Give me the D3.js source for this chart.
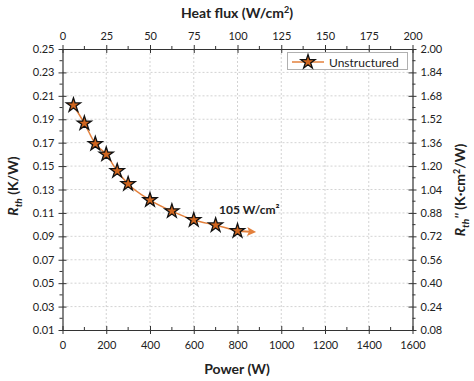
<!DOCTYPE html>
<html><head><meta charset="utf-8">
<script src="https://cdn.jsdelivr.net/npm/d3@7"></script>
<style>
body{margin:0;background:#fff;}
svg text{font-family:Lato,"Open Sans",sans-serif;}
</style></head>
<body><svg id="c" width="474" height="381"></svg>
<script>
const power = [50,100,150,200,250,300,400,500,600,700,800];
const rth = [0.202,0.1865,0.169,0.160,0.1458,0.1347,0.121,0.1115,0.104,0.0995,0.0946];
const arrowPower = [800,885];
const arrowR = [0.0946,0.0937];
const xTicks = [0,200,400,600,800,1000,1200,1400,1600];
const topTicks = [0,25,50,75,100,125,150,175,200];
const yTicks = [0.01,0.03,0.05,0.07,0.09,0.11,0.13,0.15,0.17,0.19,0.21,0.23,0.25];
const y2Ticks = [0.08,0.24,0.40,0.56,0.72,0.88,1.04,1.20,1.36,1.52,1.68,1.84,2.00];
const seriesName = "Unstructured";
const annot = "105 W/cm²";

const L=62.5,R=412.5,T=49,B=330;
const svg=d3.select("#c");
const x=d3.scaleLinear().domain([0,1600]).range([L,R]);
const xt=d3.scaleLinear().domain([0,200]).range([L,R]);
const y=d3.scaleLinear().domain([0.01,0.25]).range([B,T]);
const y2=d3.scaleLinear().domain([0.08,2.00]).range([B,T]);
const axisCol="#333";

// grid
const g=svg.append("g");
g.selectAll("line.v").data(xTicks.filter(d=>d>0&&d<1600)).join("line")
 .attr("x1",d=>x(d)).attr("x2",d=>x(d)).attr("y1",T).attr("y2",B)
 .attr("stroke","#c8c8c8").attr("stroke-dasharray","2,2").attr("stroke-width",0.8);
g.selectAll("line.h").data(yTicks.filter(d=>d>0.011&&d<0.249)).join("line")
 .attr("y1",d=>y(d)).attr("y2",d=>y(d)).attr("x1",L).attr("x2",R)
 .attr("stroke","#c8c8c8").attr("stroke-dasharray","2,2").attr("stroke-width",0.8);

function styleAxis(sel){
  sel.select(".domain").attr("stroke",axisCol).attr("stroke-width",1.2);
  sel.selectAll(".tick line").attr("stroke",axisCol).attr("stroke-width",1);
  sel.selectAll(".tick text").attr("fill","#222").attr("font-size","11px");
}
const minorX=d3.range(100,1600,200);
const minorY=d3.range(0.02,0.25,0.02);
// bottom
const ab=svg.append("g").attr("transform",`translate(0,${B})`)
 .call(d3.axisBottom(x).tickValues(xTicks).tickFormat(d3.format("d")).tickSizeOuter(0).tickSizeInner(4).tickPadding(5));
ab.selectAll(".tick line").attr("y1",-4).attr("y2",4);
ab.selectAll(".tick text").attr("dy","0.9em");
svg.append("g").selectAll("line").data(minorX).join("line")
 .attr("x1",d=>x(d)).attr("x2",d=>x(d)).attr("y1",B).attr("y2",B-3).attr("stroke",axisCol);
styleAxis(ab);
// top
const at=svg.append("g").attr("transform",`translate(0,${T})`)
 .call(d3.axisTop(xt).tickValues(topTicks).tickFormat(d3.format("d")).tickSizeOuter(0).tickSizeInner(4).tickPadding(5));
at.selectAll(".tick line").attr("y1",-4).attr("y2",4);
svg.append("g").selectAll("line").data(minorX).join("line")
 .attr("x1",d=>x(d)).attr("x2",d=>x(d)).attr("y1",T).attr("y2",T-3).attr("stroke",axisCol);
styleAxis(at);
// left
const al=svg.append("g").attr("transform",`translate(${L},0)`)
 .call(d3.axisLeft(y).tickValues(yTicks).tickFormat(d3.format(".2f")).tickSizeOuter(0).tickSizeInner(4).tickPadding(4));
al.selectAll(".tick line").attr("x1",-4).attr("x2",4);
svg.append("g").selectAll("line").data(minorY).join("line")
 .attr("y1",d=>y(d)).attr("y2",d=>y(d)).attr("x1",L).attr("x2",L-3).attr("stroke",axisCol);
styleAxis(al);
// right
const ar=svg.append("g").attr("transform",`translate(${R},0)`)
 .call(d3.axisRight(y2).tickValues(y2Ticks).tickFormat(d3.format(".2f")).tickSizeOuter(0).tickSizeInner(4).tickPadding(4));
ar.selectAll(".tick line").attr("x1",-4).attr("x2",4);
svg.append("g").selectAll("line").data(minorY).join("line")
 .attr("y1",d=>y(d)).attr("y2",d=>y(d)).attr("x1",R).attr("x2",R+3).attr("stroke",axisCol);
styleAxis(ar);

// titles
svg.append("text").attr("x",237).attr("y",18).attr("text-anchor","middle")
 .attr("font-size","14px").attr("font-weight","bold").attr("fill","#222")
 .html('Heat flux (W/cm<tspan dy="-5" font-size="9px">2</tspan><tspan dy="5">)</tspan>');
svg.append("text").attr("x",237).attr("y",374).attr("text-anchor","middle")
 .attr("font-size","14px").attr("font-weight","bold").attr("fill","#222").text("Power (W)");
svg.append("text").attr("transform","translate(18,186) rotate(-90)").attr("text-anchor","middle")
 .attr("font-size","14px").attr("font-weight","bold").attr("fill","#222")
 .html('<tspan font-style="italic">R</tspan><tspan font-style="italic" font-size="10px" dy="4">th</tspan><tspan dy="-4"> (K/W)</tspan>');
svg.append("text").attr("transform","translate(465,190) rotate(-90)").attr("text-anchor","middle")
 .attr("font-size","14px").attr("font-weight","bold").attr("fill","#222")
 .html('<tspan font-style="italic">R</tspan><tspan font-style="italic" font-size="10px" dy="4">th</tspan><tspan dy="-4" font-style="italic">\'\'</tspan><tspan> (K·cm</tspan><tspan dy="-5" font-size="9px">2</tspan><tspan dy="5">/W)</tspan>');

// line
const lineCol="#e3803c", fillCol="#d0661f";
const line=d3.line().x(d=>x(d[0])).y(d=>y(d[1])).curve(d3.curveMonotoneX);
svg.append("path").datum(power.map((p,i)=>[p,rth[i]])).attr("d",line)
 .attr("fill","none").attr("stroke",lineCol).attr("stroke-width",1.5);
// arrow
const ax0=x(arrowPower[0]),ay0=y(arrowR[0]),ax1=x(arrowPower[1]),ay1=y(arrowR[1]);
const ang=Math.atan2(ay1-ay0,ax1-ax0);
svg.append("line").attr("x1",ax0).attr("y1",ay0).attr("x2",ax1-6*Math.cos(ang)).attr("y2",ay1-6*Math.sin(ang))
 .attr("stroke",lineCol).attr("stroke-width",2);
svg.append("path").attr("transform",`translate(${ax1},${ay1}) rotate(${ang*180/Math.PI})`)
 .attr("d","M0,0 L-9,-4.5 L-7,0 L-9,4.5 Z").attr("fill",lineCol);

// stars
const star=d3.symbol().type(d3.symbolStar).size(62);
svg.append("g").selectAll("path").data(power.map((p,i)=>[p,rth[i]])).join("path")
 .attr("transform",d=>`translate(${x(d[0])},${y(d[1])})`).attr("d",star)
 .attr("fill",fillCol).attr("stroke","#111").attr("stroke-width",1.3).attr("stroke-linejoin","miter");

// annotation
svg.append("text").attr("x",219).attr("y",214).attr("font-size","12px").attr("font-weight","bold").attr("fill","#222")
 .text(annot);

// legend
svg.append("rect").attr("x",287.5).attr("y",52.5).attr("width",120).attr("height",17)
 .attr("fill","#fff").attr("stroke","#b0b0b0").attr("stroke-width",1);
svg.append("line").attr("x1",292).attr("x2",324).attr("y1",62).attr("y2",62).attr("stroke",lineCol).attr("stroke-width",1.5);
svg.append("path").attr("transform","translate(308,62)").attr("d",star)
 .attr("fill",fillCol).attr("stroke","#111").attr("stroke-width",1.3);
svg.append("text").attr("x",329).attr("y",66.5).attr("font-size","12px").attr("fill","#222").text(seriesName);
</script></body></html>
